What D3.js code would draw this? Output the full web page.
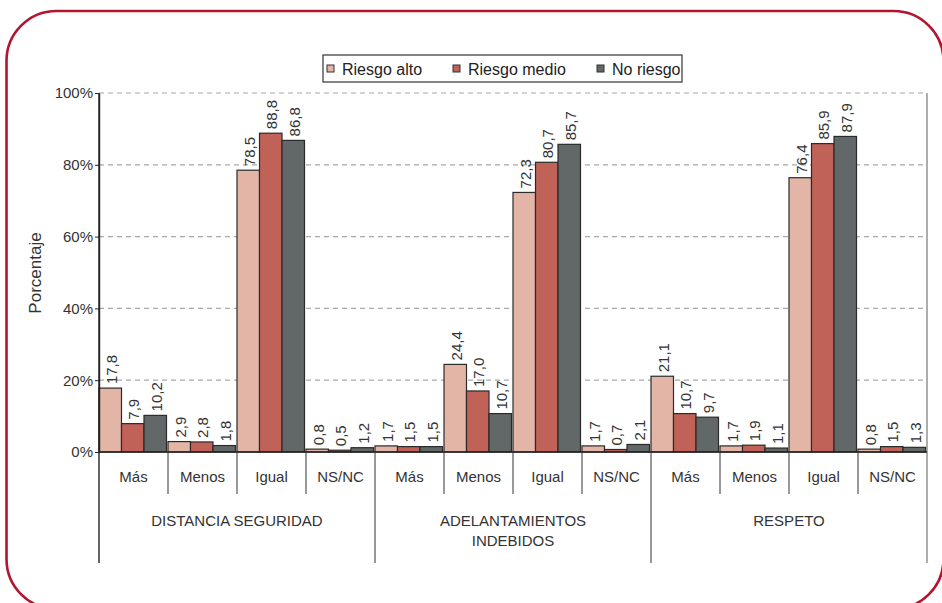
<!DOCTYPE html>
<html>
<head>
<meta charset="utf-8">
<script src="https://cdn.jsdelivr.net/npm/d3@7"></script>
<style>
  html, body { margin: 0; padding: 0; background: #fff; }
  svg { display: block; font-family: "Liberation Sans", Arial, sans-serif; }
</style>
</head>
<body>
<script>
// Data
const groups = ["DISTANCIA SEGURIDAD", "ADELANTAMIENTOS INDEBIDOS", "RESPETO"];
const answers = ["Más", "Menos", "Igual", "NS/NC"];
const series = ["Riesgo alto", "Riesgo medio", "No riesgo"];
const colors = ["#e3b5a7", "#c06257", "#626867"];

// one row per group, four answers each, in series order
const riesgoAlto = [17.8, 2.9, 78.5, 0.8, 1.7, 24.4, 72.3, 1.7, 21.1, 1.7, 76.4, 0.8];
const riesgoMedio = [7.9, 2.8, 88.8, 0.5, 1.5, 17.0, 80.7, 0.7, 10.7, 1.9, 85.9, 1.5];
const noRiesgo = [10.2, 1.8, 86.8, 1.2, 1.5, 10.7, 85.7, 2.1, 9.7, 1.1, 87.9, 1.3];
const yTicks = [0, 20, 40, 60, 80, 100];

const width = 942, height = 603;
const margin = { top: 93, right: 15, bottom: 151, left: 99 };
const plotW = width - margin.left - margin.right;
const plotH = height - margin.top - margin.bottom;

const cats = groups.flatMap((g, gi) => answers.map((a, ai) => ({ key: gi + "|" + a, group: g, answer: a, idx: gi * 4 + ai })));
const rows = cats.map(c => ({
  ...c,
  values: [riesgoAlto[c.idx], riesgoMedio[c.idx], noRiesgo[c.idx]]
}));

const svg = d3.select("body").append("svg")
  .attr("width", width)
  .attr("height", height);

// red rounded frame
svg.append("rect")
  .attr("x", 6.5).attr("y", 11)
  .attr("width", 937).attr("height", 598)
  .attr("rx", 50).attr("ry", 50)
  .attr("fill", "none")
  .attr("stroke", "#b3152f")
  .attr("stroke-width", 2.6);

const g = svg.append("g").attr("transform", `translate(${margin.left},${margin.top})`);

const x0 = d3.scaleBand().domain(rows.map(d => d.key)).range([0, plotW]).padding(0);
const x1 = d3.scaleBand().domain(series).range([0, x0.bandwidth() - 1.5]).padding(0);
const y = d3.scaleLinear().domain([0, 100]).range([plotH, 0]);

// gridlines
g.append("g")
  .selectAll("line")
  .data(yTicks.filter(t => t > 0))
  .join("line")
  .attr("x1", 0).attr("x2", plotW)
  .attr("y1", d => y(d)).attr("y2", d => y(d))
  .attr("stroke", "#a8a8a8")
  .attr("stroke-dasharray", "5,4")
  .attr("stroke-width", 1.2);

// right border of plot area
g.append("line")
  .attr("x1", plotW).attr("x2", plotW)
  .attr("y1", 0).attr("y2", plotH + 111)
  .attr("stroke", "#777")
  .attr("stroke-width", 1.2);

// bars
const cat = g.append("g").selectAll("g")
  .data(rows)
  .join("g")
  .attr("transform", d => `translate(${x0(d.key)},0)`);

cat.selectAll("rect")
  .data(d => d.values.map((v, i) => ({ s: series[i], v, i })))
  .join("rect")
  .attr("x", d => x1(d.s))
  .attr("y", d => y(d.v))
  .attr("width", x1.bandwidth())
  .attr("height", d => y(0) - y(d.v))
  .attr("fill", d => colors[d.i])
  .attr("stroke", "#2a2a2a")
  .attr("stroke-width", 1.2);

// value labels
cat.selectAll("text")
  .data(d => d.values.map((v, i) => ({ s: series[i], v, i })))
  .join("text")
  .attr("transform", d => `translate(${x1(d.s) + x1.bandwidth() / 2 + 1},${y(d.v) - 4}) rotate(-90)`)
  .attr("dy", "0.35em")
  .attr("text-anchor", "start")
  .style("font-size", "15px")
  .style("fill", "#333")
  .text(d => d3.format(".1f")(d.v).replace(".", ","));

// y axis
const yAxis = d3.axisLeft(y).tickValues(yTicks).tickFormat(d => d + "%").tickSize(4).tickSizeOuter(0);
const ya = g.append("g").call(yAxis);
ya.select(".domain").attr("stroke", "#222").attr("stroke-width", 1.4);
ya.selectAll(".tick line").attr("stroke", "#222");
ya.selectAll(".tick text")
  .attr("x", -6)
  .style("font-size", "15px")
  .style("fill", "#333")
  .style("font-family", "inherit");

// extend axis line down through the category block
g.append("line")
  .attr("x1", 0).attr("x2", 0)
  .attr("y1", 0).attr("y2", plotH + 111)
  .attr("stroke", "#222").attr("stroke-width", 1.4);

// baseline
g.append("line")
  .attr("x1", 0).attr("x2", plotW)
  .attr("y1", plotH).attr("y2", plotH)
  .attr("stroke", "#222").attr("stroke-width", 1.4);

// category separators
g.append("g").selectAll("line")
  .data(rows.slice(1))
  .join("line")
  .attr("x1", d => x0(d.key)).attr("x2", d => x0(d.key))
  .attr("y1", plotH)
  .attr("y2", d => answers.indexOf(d.answer) === 0 ? plotH + 111 : plotH + 42)
  .attr("stroke", "#333")
  .attr("stroke-width", 1);

// category labels
g.append("g").selectAll("text")
  .data(rows)
  .join("text")
  .attr("x", d => x0(d.key) + x0.bandwidth() / 2)
  .attr("y", plotH + 30)
  .attr("text-anchor", "middle")
  .style("font-size", "15px")
  .style("fill", "#333")
  .text(d => d.answer);

// group labels
const groupLines = [["DISTANCIA SEGURIDAD"], ["ADELANTAMIENTOS", "INDEBIDOS"], ["RESPETO"]];
groups.forEach((gr, gi) => {
  const first = x0(gi + "|" + answers[0]);
  const cx = first + x0.bandwidth() * 2;
  const t = g.append("text")
    .attr("x", cx)
    .attr("y", plotH + 74)
    .attr("text-anchor", "middle")
    .style("font-size", "15px")
    .style("fill", "#333");
  groupLines[gi].forEach((ln, li) => {
    t.append("tspan").attr("x", cx).attr("dy", li === 0 ? 0 : 20).text(ln);
  });
});

// y label
svg.append("text")
  .attr("transform", "translate(35,273) rotate(-90)")
  .attr("text-anchor", "middle")
  .attr("dy", "0.35em")
  .style("font-size", "17px")
  .style("fill", "#333")
  .text("Porcentaje");

// legend
const legend = svg.append("g").attr("transform", "translate(323,55)");
legend.append("rect")
  .attr("width", 359).attr("height", 27)
  .attr("fill", "#fff")
  .attr("stroke", "#333")
  .attr("stroke-width", 1.2);
const legendX = [4, 130, 274];
const item = legend.selectAll("g.item")
  .data(series)
  .join("g")
  .attr("class", "item")
  .attr("transform", (d, i) => `translate(${legendX[i]},0)`);
item.append("rect")
  .attr("x", 0).attr("y", 10)
  .attr("width", 7).attr("height", 7)
  .attr("fill", (d, i) => colors[i])
  .attr("stroke", "#333")
  .attr("stroke-width", 1);
item.append("text")
  .attr("x", 15).attr("y", 14)
  .attr("dy", "0.35em")
  .style("font-size", "16px")
  .style("fill", "#222")
  .text(d => d);
</script>
</body>
</html>
